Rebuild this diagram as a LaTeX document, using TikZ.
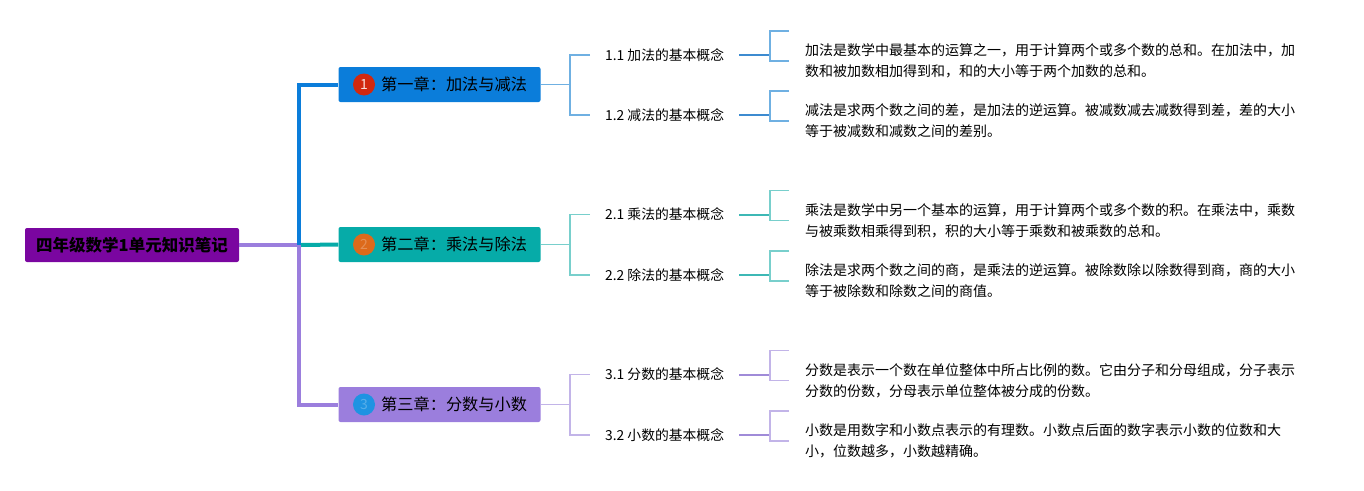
\documentclass[tikz,border=0pt]{standalone}
\usepackage{fontspec}
\setmainfont{Noto Sans CJK SC}

\definecolor{rootc}{HTML}{7A06A0}
\definecolor{blueA}{HTML}{0B7DDA}
\definecolor{tealA}{HTML}{06ABA8}
\definecolor{purpA}{HTML}{9B7EDD}
\definecolor{blueL}{HTML}{6FB0E2}
\definecolor{blueM}{HTML}{3D8BD0}
\definecolor{tealL}{HTML}{78CFCC}
\definecolor{tealM}{HTML}{3DB8B5}
\definecolor{purpL}{HTML}{C2B4E8}
\definecolor{purpM}{HTML}{A08BD8}
\definecolor{badgeA}{HTML}{D2280F}
\definecolor{badgeB}{HTML}{DD6A1B}
\definecolor{badgeC}{HTML}{1F93E2}

\begin{document}
\begin{tikzpicture}[x=1pt, y=-1pt,
    rootbox/.style={fill=rootc, rounded corners=2pt, minimum width=214pt, minimum height=34pt, inner sep=0pt, font=\fontsize{16.5}{17}\selectfont\bfseries},
    chapbox/.style={rounded corners=2pt, minimum width=202pt, minimum height=35pt, inner sep=0pt},
    badge/.style={circle, minimum size=22pt, inner sep=0pt, font=\fontsize{14}{14}\selectfont},
    chaptext/.style={anchor=west, inner sep=0pt, font=\fontsize{16.2}{17}\selectfont},
    sublabel/.style={anchor=west, inner xsep=15pt, inner ysep=2pt, font=\fontsize{13.8}{14}\selectfont},
    leaftext/.style={anchor=west, inner xsep=16pt, inner ysep=0pt, align=left, font=\fontsize{14}{21}\selectfont},
    trunk/.style={line width=4pt},
    branch/.style={line width=1.5pt},
    leafline/.style={line width=2pt}]
    \useasboundingbox (0, 0) rectangle (1364, 490);

    % root and chapters
    \node[rootbox] (root) at (132, 245) {四年级数学1单元知识笔记};
    \coordinate (hub) at (299, 245);

    \node[chapbox, fill=blueA] (c1) at (439.5, 84.5) {};
    \node[chapbox, fill=tealA] (c2) at (439.5, 244.5) {};
    \node[chapbox, fill=purpA] (c3) at (439.5, 404.5) {};

    \node[badge, fill=badgeA, text=white!85!badgeA] (b1) at (364, 84.5) {1};
    \node[badge, fill=badgeB, text=white!25!badgeB] (b2) at (364, 244.5) {2};
    \node[badge, fill=badgeC, text=white!25!badgeC] (b3) at (364, 404.5) {3};

    \node[chaptext] (c1t) at (381, 84.5) {第一章：加法与减法};
    \node[chaptext] (c2t) at (381, 244.5) {第二章：乘法与除法};
    \node[chaptext] (c3t) at (381, 404.5) {第三章：分数与小数};

    \draw[trunk, purpA] (root.east) -- (hub);
    \draw[trunk, blueA] (hub) |- (c1.west);
    \draw[trunk, purpA] (hub) |- (c3.west);
    \draw[trunk, tealA] ([xshift=2pt]hub) -- (c2.west);

    % sections
    \node[sublabel] (s11) at (590, 55) {1.1 加法的基本概念};
    \node[sublabel] (s12) at (590, 115) {1.2 减法的基本概念};
    \node[sublabel] (s21) at (590, 214.5) {2.1 乘法的基本概念};
    \node[sublabel] (s22) at (590, 275) {2.2 除法的基本概念};
    \node[sublabel] (s31) at (590, 374.5) {3.1 分数的基本概念};
    \node[sublabel] (s32) at (590, 435) {3.2 小数的基本概念};

    \coordinate (k1) at (570, 84.5);
    \coordinate (k2) at (570, 244.5);
    \coordinate (k3) at (570, 404.5);

    \draw[branch, blueL] (c1.east) -- (k1);
    \draw[branch, blueL] (s11.west) -| (k1) |- (s12.west);
    \draw[branch, tealL] (c2.east) -- (k2);
    \draw[branch, tealL] (s21.west) -| (k2) |- (s22.west);
    \draw[branch, purpL] (c3.east) -- (k3);
    \draw[branch, purpL] (s31.west) -| (k3) |- (s32.west);

    % notes
    \node[leaftext] (t11) at (789, 61) {加法是数学中最基本的运算之一，用于计算两个或多个数的总和。在加法中，加\\数和被加数相加得到和，和的大小等于两个加数的总和。};
    \node[leaftext] (t12) at (789, 121) {减法是求两个数之间的差，是加法的逆运算。被减数减去减数得到差，差的大小\\等于被减数和减数之间的差别。};
    \node[leaftext] (t21) at (789, 220.5) {乘法是数学中另一个基本的运算，用于计算两个或多个数的积。在乘法中，乘数\\与被乘数相乘得到积，积的大小等于乘数和被乘数的总和。};
    \node[leaftext] (t22) at (789, 281) {除法是求两个数之间的商，是乘法的逆运算。被除数除以除数得到商，商的大小\\等于被除数和除数之间的商值。};
    \node[leaftext] (t31) at (789, 380.5) {分数是表示一个数在单位整体中所占比例的数。它由分子和分母组成，分子表示\\分数的份数，分母表示单位整体被分成的份数。};
    \node[leaftext] (t32) at (789, 441) {小数是用数字和小数点表示的有理数。小数点后面的数字表示小数的位数和大\\小，位数越多，小数越精确。};

    \coordinate (j11) at (770, 55);
    \coordinate (j12) at (770, 115);
    \coordinate (j21) at (770, 214.5);
    \coordinate (j22) at (770, 275);
    \coordinate (j31) at (770, 374.5);
    \coordinate (j32) at (770, 435);

    \coordinate (e11) at (789, 31);
    \coordinate (e12) at (789, 91);
    \coordinate (e21) at (789, 190.5);
    \coordinate (e22) at (789, 251);
    \coordinate (e31) at (789, 350.5);
    \coordinate (e32) at (789, 411);

    \draw[leafline, blueM] (s11.east) -- (j11);
    \draw[leafline, blueM] (s12.east) -- (j12);
    \draw[leafline, tealM] (s21.east) -- (j21);
    \draw[leafline, tealM] (s22.east) -- (j22);
    \draw[leafline, purpM] (s31.east) -- (j31);
    \draw[leafline, purpM] (s32.east) -- (j32);

    \draw[branch, blueL] (e11) -| (j11) |- (t11.west);
    \draw[branch, blueL] (e12) -| (j12) |- (t12.west);
    \draw[branch, tealL] (e21) -| (j21) |- (t21.west);
    \draw[branch, tealL] (e22) -| (j22) |- (t22.west);
    \draw[branch, purpL] (e31) -| (j31) |- (t31.west);
    \draw[branch, purpL] (e32) -| (j32) |- (t32.west);

\end{tikzpicture}
\end{document}
